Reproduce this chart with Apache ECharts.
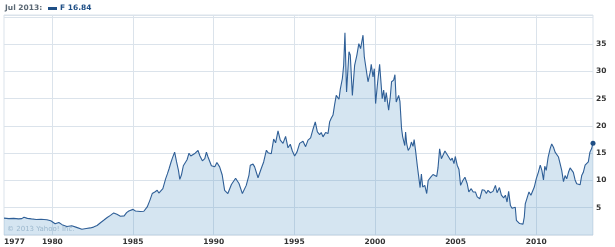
<!DOCTYPE html>
<html><head><meta charset="utf-8">
<script src="https://cdn.jsdelivr.net/npm/echarts@6/dist/echarts.min.js"></script>
<style>html,body{margin:0;padding:0;background:#fff}#c{width:615px;height:247px}</style>
</head><body><div id="c"></div>
<script>
const dates = [1977.0,1977.3,1977.6,1977.9,1978.1,1978.24,1978.45,1978.7,1979.0,1979.3,1979.66,1979.9,1980.17,1980.4,1980.6,1980.9,1981.2,1981.5,1981.83,1982.1,1982.35,1982.55,1982.77,1983.0,1983.18,1983.4,1983.6,1983.8,1984.0,1984.22,1984.45,1984.6,1984.74,1985.0,1985.15,1985.26,1985.45,1985.67,1985.88,1986.05,1986.19,1986.35,1986.5,1986.6,1986.71,1986.85,1986.92,1987.02,1987.13,1987.23,1987.35,1987.44,1987.58,1987.7,1987.82,1987.9,1988.0,1988.12,1988.22,1988.35,1988.47,1988.58,1988.68,1988.85,1989.03,1989.15,1989.3,1989.45,1989.55,1989.65,1989.86,1990.07,1990.2,1990.37,1990.53,1990.68,1990.88,1991.1,1991.2,1991.36,1991.57,1991.78,1991.86,1992.02,1992.19,1992.27,1992.44,1992.54,1992.75,1992.95,1993.1,1993.27,1993.37,1993.57,1993.72,1993.84,1993.99,1994.13,1994.3,1994.46,1994.61,1994.75,1994.88,1995.02,1995.17,1995.33,1995.54,1995.7,1995.85,1996.01,1996.16,1996.3,1996.43,1996.57,1996.67,1996.78,1996.94,1997.09,1997.19,1997.29,1997.4,1997.5,1997.6,1997.77,1997.85,1997.98,1998.06,1998.14,1998.24,1998.39,1998.47,1998.6,1998.74,1998.88,1999.0,1999.11,1999.26,1999.34,1999.46,1999.57,1999.71,1999.77,1999.88,1999.96,2000.04,2000.17,2000.29,2000.45,2000.54,2000.62,2000.7,2000.85,2000.95,2001.03,2001.16,2001.24,2001.32,2001.47,2001.55,2001.65,2001.72,2001.85,2001.9,2001.97,2002.06,2002.18,2002.26,2002.36,2002.43,2002.53,2002.63,2002.73,2002.8,2002.88,2002.96,2003.09,2003.21,2003.3,2003.46,2003.6,2003.71,2003.83,2003.91,2004.01,2004.12,2004.22,2004.34,2004.44,2004.57,2004.69,2004.79,2004.9,2004.98,2005.1,2005.21,2005.31,2005.45,2005.58,2005.72,2005.82,2005.97,2006.09,2006.23,2006.34,2006.5,2006.65,2006.79,2006.91,2007.01,2007.16,2007.32,2007.47,2007.57,2007.72,2007.84,2007.98,2008.09,2008.19,2008.29,2008.4,2008.5,2008.6,2008.7,2008.77,2008.85,2008.97,2009.07,2009.18,2009.26,2009.32,2009.42,2009.55,2009.67,2009.77,2009.88,2010.0,2010.13,2010.25,2010.35,2010.45,2010.53,2010.62,2010.74,2010.86,2010.96,2011.07,2011.17,2011.28,2011.38,2011.48,2011.58,2011.69,2011.79,2011.89,2012.0,2012.1,2012.2,2012.3,2012.41,2012.51,2012.61,2012.72,2012.82,2012.92,2013.03,2013.13,2013.23,2013.33,2013.43,2013.52];
const prices = [3.1,3.0,3.05,2.95,3.0,3.25,3.05,2.95,2.85,2.9,2.8,2.6,2.05,2.3,1.9,1.55,1.7,1.4,1.05,1.2,1.3,1.45,1.75,2.3,2.7,3.2,3.6,4.05,3.8,3.45,3.5,4.1,4.4,4.7,4.4,4.05,4.3,4.35,5.15,6.4,7.6,7.9,8.2,7.7,7.9,8.5,8.3,10.3,11.2,12.1,13.3,14.1,15.2,13.4,11.8,10.2,11.0,12.7,12.4,13.8,15.0,14.5,14.4,15.0,15.5,14.5,13.6,14.0,15.2,14.3,12.7,12.5,13.3,12.5,11.0,8.2,7.6,9.25,9.1,10.4,9.45,7.6,7.3,9.1,11.0,12.8,13.0,12.5,10.5,12.2,13.4,15.55,15.1,14.9,17.6,16.9,19.1,17.4,16.8,18.1,16.0,16.65,15.4,14.5,15.25,16.8,17.2,16.2,17.4,17.8,19.4,20.75,18.9,18.4,18.8,18.0,18.8,18.6,20.75,21.4,22.0,23.9,25.6,24.9,26.7,28.7,31.1,37.1,26.25,33.6,33.0,25.6,31.1,33.0,35.1,34.2,36.65,32.7,33.0,28.1,29.9,31.3,29.0,30.5,24.1,28.1,31.3,25.0,26.6,24.4,26.1,22.9,25.3,28.1,28.4,29.4,24.4,25.6,24.5,19.5,18.0,16.4,18.9,16.7,15.5,16.1,17.05,16.25,17.5,15.2,12.6,10.3,8.7,11.2,8.8,9.1,7.6,10.0,10.6,11.1,11.4,10.75,12.3,15.8,14.0,13.7,15.4,15.5,14.3,13.7,14.1,13.1,14.4,12.8,12.0,9.1,10.0,10.6,9.4,7.9,8.5,7.9,7.9,7.0,6.65,8.3,8.2,7.6,8.2,7.75,8.0,9.1,7.75,8.7,7.3,6.8,7.3,6.05,8.0,5.4,4.9,4.8,5.1,2.7,2.4,2.1,1.8,2.0,3.3,5.7,5.85,7.9,7.3,7.1,8.8,10.3,11.5,12.8,11.85,10.1,12.6,11.85,14.3,15.8,16.7,16.1,15.2,15.5,14.3,13.1,11.85,9.8,10.9,10.3,11.5,12.3,12.3,11.5,10.1,9.4,9.1,9.2,10.9,11.5,12.8,12.5,13.4,15.2,15.8,16.84];
const yearLabels = [1977,1980,1985,1990,1995,2000,2005,2010];
const gridYears = [1980,1985,1990,1995,2000,2005,2010];
const yTicks = [5,10,15,20,25,30,35];
const ticker = 'F';
const periodLabel = 'Jul 2013:';

const chart = echarts.init(document.getElementById('c'), null, {renderer:'canvas'});
const seriesData = dates.map((d,i)=>[d,prices[i]]);
const last = seriesData[seriesData.length-1];
const gridColor = '#dbe3eb';
chart.setOption({
  animation:false,
  grid:{left:4,right:22,top:15,bottom:12,show:true,borderColor:gridColor,borderWidth:1,backgroundColor:'transparent'},
  xAxis:{type:'value',min:dates[0],max:dates[dates.length-1],
    axisLine:{show:false},
    axisTick:{show:false,customValues:gridYears},
    splitLine:{show:true,lineStyle:{color:gridColor,width:1}},
    axisLabel:{customValues:yearLabels,alignMinLabel:'left',margin:3,fontFamily:'DejaVu Sans',fontWeight:'bold',fontSize:7.5,color:'#333',formatter:v=>String(Math.round(v))}
  },
  yAxis:{type:'value',position:'right',min:0,max:40.35,interval:5,
    axisLine:{show:false},axisTick:{show:false},
    splitLine:{show:true,lineStyle:{color:gridColor,width:1}},
    axisLabel:{margin:3,fontFamily:'DejaVu Sans',fontWeight:'bold',fontSize:7.5,color:'#333',
      formatter:v=>yTicks.indexOf(v)>=0?String(v):''}
  },
  series:[
    {type:'line',data:seriesData,showSymbol:false,symbol:'none',
      lineStyle:{color:'#2f5f97',width:1.1},
      areaStyle:{color:'rgb(64,137,191)',opacity:0.22},z:2},
    {type:'scatter',data:[last],symbolSize:5,itemStyle:{color:'#1f4f86',opacity:1},z:3}
  ],
  graphic:[
    {type:'text',left:5,top:4,style:{text:periodLabel,fontFamily:'DejaVu Sans',fontWeight:'bold',fontSize:7.5,fill:'#5a6773'}},
    {type:'rect',left:48,top:7,shape:{width:9,height:3},style:{fill:'#1f4f86'}},
    {type:'text',left:60,top:4,style:{text:ticker+' '+last[1].toFixed(2),fontFamily:'DejaVu Sans',fontWeight:'bold',fontSize:7.5,fill:'#1f4f86'}},
    {type:'text',left:7,top:226,style:{text:'© 2013 Yahoo! Inc.',fontFamily:'DejaVu Sans',fontSize:7,fill:'#b7c6d2'}}
  ]
});
</script></body></html>
